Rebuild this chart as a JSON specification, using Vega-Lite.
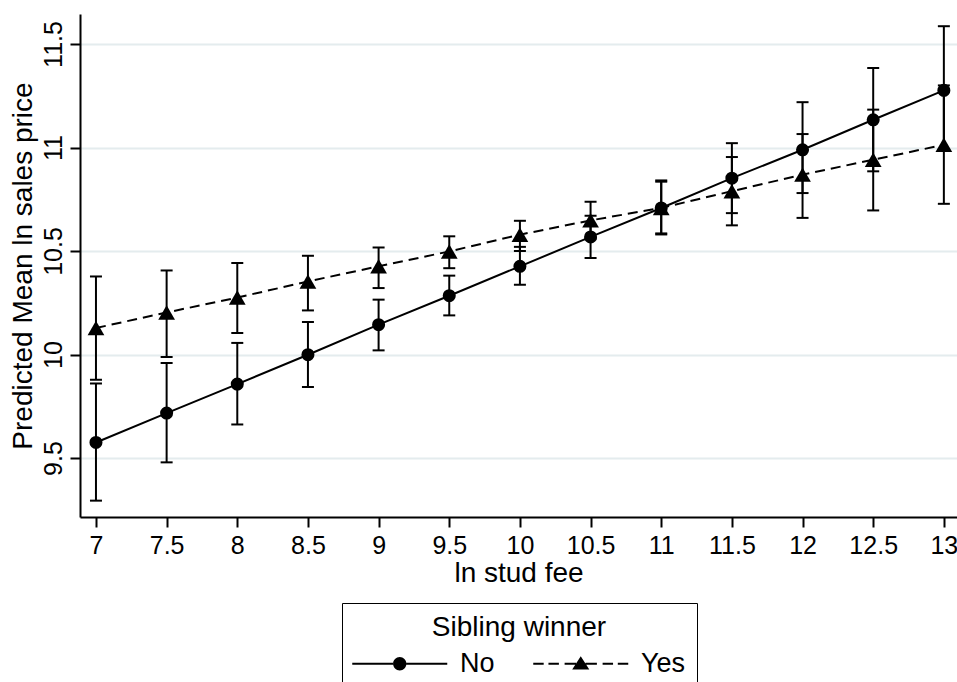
{
  "$schema": "https://vega.github.io/schema/vega-lite/v6.json",
  "autosize": {"type": "none"},
  "width": 877,
  "height": 503,
  "padding": {"left": 80, "top": 14, "right": 0, "bottom": 165},
  "background": "white",
  "config": {
    "view": {"stroke": null},
    "font": "Liberation Sans",
    "axis": {
      "domainColor": "black", "domainWidth": 2,
      "tickColor": "black", "tickWidth": 2, "tickSize": 10,
      "labelColor": "black", "labelFont": "Liberation Sans", "labelFontSize": 25,
      "titleColor": "black", "titleFont": "Liberation Sans", "titleFontSize": 28, "titleFontWeight": "normal",
      "gridColor": "#e4ecee", "gridWidth": 2
    },
    "legend": {
      "labelFont": "Liberation Sans", "titleFont": "Liberation Sans"
    }
  },
  "data": {"values": [
    {"x": 7, "group": "No", "mean": 9.575, "lo": 9.294, "hi": 9.86},
    {"x": 7.5, "group": "No", "mean": 9.717, "lo": 9.479, "hi": 9.959},
    {"x": 8, "group": "No", "mean": 9.857, "lo": 9.662, "hi": 10.056},
    {"x": 8.5, "group": "No", "mean": 9.999, "lo": 9.843, "hi": 10.157},
    {"x": 9, "group": "No", "mean": 10.144, "lo": 10.02, "hi": 10.265},
    {"x": 9.5, "group": "No", "mean": 10.284, "lo": 10.189, "hi": 10.381},
    {"x": 10, "group": "No", "mean": 10.426, "lo": 10.337, "hi": 10.52},
    {"x": 10.5, "group": "No", "mean": 10.568, "lo": 10.466, "hi": 10.67},
    {"x": 11, "group": "No", "mean": 10.708, "lo": 10.58, "hi": 10.841},
    {"x": 11.5, "group": "No", "mean": 10.852, "lo": 10.683, "hi": 11.021},
    {"x": 12, "group": "No", "mean": 10.989, "lo": 10.78, "hi": 11.219},
    {"x": 12.5, "group": "No", "mean": 11.134, "lo": 10.885, "hi": 11.384},
    {"x": 13, "group": "No", "mean": 11.276, "lo": 10.99, "hi": 11.586},
    {"x": 7, "group": "Yes", "mean": 10.128, "lo": 9.878, "hi": 10.377},
    {"x": 7.5, "group": "Yes", "mean": 10.203, "lo": 9.988, "hi": 10.406},
    {"x": 8, "group": "Yes", "mean": 10.275, "lo": 10.104, "hi": 10.442},
    {"x": 8.5, "group": "Yes", "mean": 10.353, "lo": 10.213, "hi": 10.477},
    {"x": 9, "group": "Yes", "mean": 10.426, "lo": 10.321, "hi": 10.517},
    {"x": 9.5, "group": "Yes", "mean": 10.498, "lo": 10.417, "hi": 10.571},
    {"x": 10, "group": "Yes", "mean": 10.579, "lo": 10.5, "hi": 10.646},
    {"x": 10.5, "group": "Yes", "mean": 10.648, "lo": 10.56, "hi": 10.738},
    {"x": 11, "group": "Yes", "mean": 10.708, "lo": 10.585, "hi": 10.835},
    {"x": 11.5, "group": "Yes", "mean": 10.789, "lo": 10.624, "hi": 10.954},
    {"x": 12, "group": "Yes", "mean": 10.869, "lo": 10.66, "hi": 11.065},
    {"x": 12.5, "group": "Yes", "mean": 10.941, "lo": 10.696, "hi": 11.183},
    {"x": 13, "group": "Yes", "mean": 11.013, "lo": 10.728, "hi": 11.3}
  ]},
  "encoding": {
    "x": {
      "field": "x", "type": "quantitative",
      "scale": {"domain": [6.887, 13.093], "nice": false, "zero": false},
      "axis": {
        "title": "ln stud fee", "grid": false,
        "values": [7, 7.5, 8, 8.5, 9, 9.5, 10, 10.5, 11, 11.5, 12, 12.5, 13],
        "format": "~g", "labelPadding": 6, "titlePadding": 1, "labelFlush": false
      }
    }
  },
  "layer": [
    {
      "mark": {"type": "rule", "color": "black", "strokeWidth": 2},
      "encoding": {
        "y": {"field": "lo", "type": "quantitative",
          "scale": {"domain": [9.215, 11.645], "nice": false, "zero": false},
          "axis": {
            "title": "Predicted Mean ln sales price",
            "values": [9.5, 10, 10.5, 11, 11.5], "format": "~g",
            "labelAngle": -90, "labelAlign": "center", "labelBaseline": "bottom",
            "labelPadding": 4, "titlePadding": 4, "grid": true
          }
        },
        "y2": {"field": "hi"}
      }
    },
    {
      "mark": {"type": "tick", "orient": "horizontal", "color": "black", "size": 12, "thickness": 2, "opacity": 1},
      "encoding": {"y": {"field": "lo", "type": "quantitative"}}
    },
    {
      "mark": {"type": "tick", "orient": "horizontal", "color": "black", "size": 12, "thickness": 2, "opacity": 1},
      "encoding": {"y": {"field": "hi", "type": "quantitative"}}
    },
    {
      "transform": [{"filter": "datum.group === 'No'"}],
      "mark": {"type": "line", "color": "black", "strokeWidth": 2},
      "encoding": {"y": {"field": "mean", "type": "quantitative"}}
    },
    {
      "transform": [{"filter": "datum.group === 'Yes'"}],
      "mark": {"type": "line", "color": "black", "strokeWidth": 2, "strokeDash": [10, 6]},
      "encoding": {"y": {"field": "mean", "type": "quantitative"}}
    },
    {
      "transform": [{"filter": "datum.group === 'No'"}],
      "mark": {"type": "point", "shape": "circle", "filled": true, "color": "black", "opacity": 1, "size": 170},
      "encoding": {"y": {"field": "mean", "type": "quantitative"}}
    },
    {
      "transform": [{"filter": "datum.group === 'Yes'"}],
      "mark": {"type": "point", "shape": "triangle-up", "filled": true, "color": "black", "opacity": 1, "size": 280},
      "encoding": {"y": {"field": "mean", "type": "quantitative"}}
    },
    {
      "transform": [{"filter": "datum.group === 'none'"}],
      "mark": {"type": "point", "filled": true, "color": "black", "fill": "black", "stroke": "black", "strokeWidth": 2, "opacity": 1},
      "encoding": {
        "y": {"field": "mean", "type": "quantitative"},
        "shape": {"field": "group", "type": "nominal",
          "scale": {"domain": ["No", "Yes"], "range": [
            "M-1.5,-0.105L2.81,-0.105L2.81,0.105L-1.5,0.105Z M4.19,-0.105L8.5,-0.105L8.5,0.105L4.19,0.105Z M2.8,0A0.7,0.7 0 1,0 4.2,0A0.7,0.7 0 1,0 2.8,0Z",
            "M-1.5,-0.105L-0.4,-0.105L-0.4,0.105L-1.5,0.105Z M0.1,-0.105L1.2,-0.105L1.2,0.105L0.1,0.105Z M1.8,-0.105L3.0,-0.105L3.0,0.105L1.8,0.105Z M4.0,-0.105L5.2,-0.105L5.2,0.105L4.0,0.105Z M5.8,-0.105L6.9,-0.105L6.9,0.105L5.8,0.105Z M7.4,-0.105L8.5,-0.105L8.5,0.105L7.4,0.105Z M3.5,-0.78L4.4,0.6L2.6,0.6Z"
          ]},
          "legend": {
            "title": "Sibling winner",
            "orient": "none", "legendX": 262, "legendY": 589,
            "direction": "horizontal", "columns": 2,
            "titleAnchor": "middle", "titleFontSize": 28, "titleFontWeight": "normal", "titleColor": "black",
            "titlePadding": 8,
            "labelFontSize": 27, "labelColor": "black", "labelOffset": 80,
            "symbolSize": 361, "symbolFillColor": "black", "symbolStrokeColor": "black",
            "symbolStrokeWidth": 2, "symbolOpacity": 1,
            "columnPadding": 34,
            "padding": 11, "strokeColor": "black"
          }
        }
      }
    }
  ]
}
